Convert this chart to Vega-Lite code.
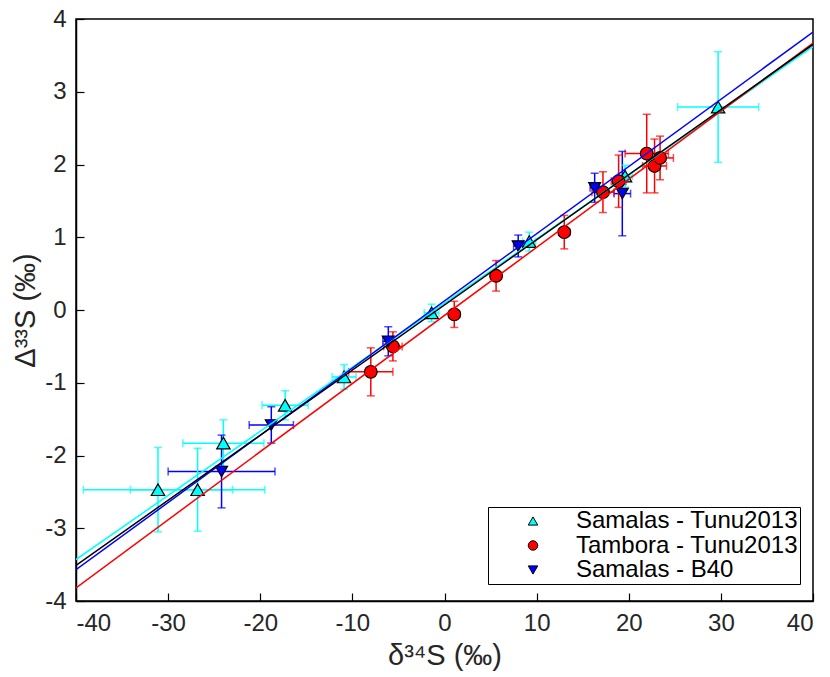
{
  "$schema": "https://vega.github.io/schema/vega-lite/v6.json",
  "autosize": {"type": "none"},
  "width": 737,
  "height": 582,
  "padding": {"left": 76, "top": 19, "right": 17, "bottom": 76},
  "background": "white",
  "config": {
    "font": "Liberation Sans",
    "view": {"stroke": "black", "strokeWidth": 1.5},
    "axis": {
      "grid": false,
      "domainColor": "black",
      "domainWidth": 1.5,
      "tickColor": "black",
      "tickWidth": 1.2,
      "labelFont": "Liberation Sans",
      "labelFontSize": 24,
      "labelColor": "#262626",
      "titleFont": "Liberation Sans",
      "titleFontSize": 29,
      "titleFontWeight": "normal",
      "titleColor": "#262626"
    },
    "legend": {
      "strokeColor": "black",
      "fillColor": "white",
      "padding": 2,
      "symbolStrokeColor": "black",
      "symbolStrokeWidth": 1,
      "labelFontSize": 24,
      "labelColor": "black",
      "labelFont": "Liberation Sans",
      "labelLimit": 400
    }
  },
  "resolve": {"axis": {"x": "independent", "y": "independent"}},
  "datasets": {
    "pts": [
      {"series": "Samalas - Tunu2013", "x": -31.1, "y": -2.47, "xlo": -39.2, "xhi": -23.0, "ylo": -3.05, "yhi": -1.89},
      {"series": "Samalas - Tunu2013", "x": -26.8, "y": -2.47, "xlo": -34.1, "xhi": -19.5, "ylo": -3.04, "yhi": -1.90},
      {"series": "Samalas - Tunu2013", "x": -24.0, "y": -1.83, "xlo": -28.4, "xhi": -19.6, "ylo": -2.15, "yhi": -1.51},
      {"series": "Samalas - Tunu2013", "x": -17.3, "y": -1.31, "xlo": -19.8, "xhi": -14.8, "ylo": -1.51, "yhi": -1.11},
      {"series": "Samalas - Tunu2013", "x": -10.9, "y": -0.92, "xlo": -12.2, "xhi": -9.6, "ylo": -1.09, "yhi": -0.75},
      {"series": "Samalas - Tunu2013", "x": -1.4, "y": -0.04, "xlo": -2.2, "xhi": -0.6, "ylo": -0.16, "yhi": 0.08},
      {"series": "Samalas - Tunu2013", "x": 9.2, "y": 0.94, "xlo": 8.5, "xhi": 9.9, "ylo": 0.81, "yhi": 1.07},
      {"series": "Samalas - Tunu2013", "x": 19.6, "y": 1.84, "xlo": 18.8, "xhi": 20.4, "ylo": 1.69, "yhi": 1.99},
      {"series": "Samalas - Tunu2013", "x": 29.7, "y": 2.79, "xlo": 25.3, "xhi": 34.1, "ylo": 2.03, "yhi": 3.55},
      {"series": "Tambora - Tunu2013", "x": -8.0, "y": -0.85, "xlo": -10.4, "xhi": -5.6, "ylo": -1.18, "yhi": -0.52},
      {"series": "Tambora - Tunu2013", "x": -5.6, "y": -0.50, "xlo": -6.6, "xhi": -4.6, "ylo": -0.70, "yhi": -0.30},
      {"series": "Tambora - Tunu2013", "x": 1.06, "y": -0.06, "xlo": 0.46, "xhi": 1.66, "ylo": -0.24, "yhi": 0.12},
      {"series": "Tambora - Tunu2013", "x": 5.6, "y": 0.47, "xlo": 5.0, "xhi": 6.2, "ylo": 0.26, "yhi": 0.68},
      {"series": "Tambora - Tunu2013", "x": 13.0, "y": 1.07, "xlo": 12.4, "xhi": 13.6, "ylo": 0.84, "yhi": 1.30},
      {"series": "Tambora - Tunu2013", "x": 17.2, "y": 1.62, "xlo": 16.0, "xhi": 18.4, "ylo": 1.34, "yhi": 1.90},
      {"series": "Tambora - Tunu2013", "x": 18.9, "y": 1.77, "xlo": 18.1, "xhi": 19.7, "ylo": 1.41, "yhi": 2.13},
      {"series": "Tambora - Tunu2013", "x": 21.95, "y": 2.15, "xlo": 19.6, "xhi": 24.3, "ylo": 1.61, "yhi": 2.69},
      {"series": "Tambora - Tunu2013", "x": 22.8, "y": 1.98, "xlo": 21.5, "xhi": 24.1, "ylo": 1.61, "yhi": 2.35},
      {"series": "Tambora - Tunu2013", "x": 23.4, "y": 2.09, "xlo": 21.95, "xhi": 24.85, "ylo": 1.79, "yhi": 2.39},
      {"series": "Samalas - B40", "x": -24.2, "y": -2.22, "xlo": -30.0, "xhi": -18.4, "ylo": -2.72, "yhi": -1.72},
      {"series": "Samalas - B40", "x": -18.8, "y": -1.58, "xlo": -21.2, "xhi": -16.4, "ylo": -1.83, "yhi": -1.33},
      {"series": "Samalas - B40", "x": -6.1, "y": -0.43, "xlo": -6.7, "xhi": -5.5, "ylo": -0.63, "yhi": -0.23},
      {"series": "Samalas - B40", "x": 8.0, "y": 0.88, "xlo": 7.5, "xhi": 8.5, "ylo": 0.73, "yhi": 1.03},
      {"series": "Samalas - B40", "x": 16.3, "y": 1.68, "xlo": 15.8, "xhi": 16.8, "ylo": 1.48, "yhi": 1.88},
      {"series": "Samalas - B40", "x": 19.3, "y": 1.60, "xlo": 18.4, "xhi": 20.2, "ylo": 1.02, "yhi": 2.18}
    ],
    "fits": [
      {"fit": "Samalas - Tunu2013", "x": -40, "y": -3.43},
      {"fit": "Samalas - Tunu2013", "x": 40, "y": 3.62},
      {"fit": "Tambora - Tunu2013", "x": -40, "y": -3.82},
      {"fit": "Tambora - Tunu2013", "x": 40, "y": 3.67},
      {"fit": "Samalas - B40", "x": -40, "y": -3.57},
      {"fit": "Samalas - B40", "x": 40, "y": 3.82},
      {"fit": "All", "x": -40, "y": -3.51},
      {"fit": "All", "x": 40, "y": 3.65}
    ]
  },
  "layer": [
    {
      "data": {"name": "pts"},
      "mark": {"type": "rule", "strokeWidth": 1.5},
      "encoding": {
        "x": {"field": "xlo", "type": "quantitative", "scale": {"domain": [-40, 40], "nice": false, "zero": false},
              "axis": {"values": [-40, -30, -20, -10, 0, 10, 20, 30, 40], "labelExpr": "'' + datum.value", "ticks": false, "title": "δ³⁴S (‰)", "labelPadding": 10, "titlePadding": 6}},
        "x2": {"field": "xhi"},
        "y": {"field": "y", "type": "quantitative", "scale": {"domain": [-4, 4], "nice": false, "zero": false},
              "axis": {"values": [-4, -3, -2, -1, 0, 1, 2, 3, 4], "labelExpr": "'' + datum.value", "ticks": false, "title": "Δ³³S (‰)", "labelPadding": 10, "titlePadding": 4}},
        "stroke": {"field": "series", "type": "nominal", "legend": null,
                   "scale": {"domain": ["Samalas - Tunu2013", "Tambora - Tunu2013", "Samalas - B40", "All"], "range": ["#00FFFF", "#FF0000", "#0000FF", "#000000"]}}
      }
    },
    {
      "data": {"name": "pts"},
      "mark": {"type": "rule", "strokeWidth": 1.5},
      "encoding": {
        "x": {"field": "x", "type": "quantitative", "axis": null},
        "y": {"field": "ylo", "type": "quantitative", "axis": null},
        "y2": {"field": "yhi"},
        "stroke": {"field": "series", "type": "nominal", "legend": null}
      }
    },
    {
      "data": {"name": "pts"},
      "mark": {"type": "tick", "orient": "vertical", "size": 8, "thickness": 1.5},
      "encoding": {
        "x": {"field": "xlo", "type": "quantitative", "axis": null},
        "y": {"field": "y", "type": "quantitative", "axis": null},
        "fill": {"field": "series", "type": "nominal", "legend": null,
                 "scale": {"domain": ["Samalas - Tunu2013", "Tambora - Tunu2013", "Samalas - B40", "All"], "range": ["#00FFFF", "#FF0000", "#0000FF", "#000000"]}}
      }
    },
    {
      "data": {"name": "pts"},
      "mark": {"type": "tick", "orient": "vertical", "size": 8, "thickness": 1.5},
      "encoding": {
        "x": {"field": "xhi", "type": "quantitative", "axis": null},
        "y": {"field": "y", "type": "quantitative", "axis": null},
        "fill": {"field": "series", "type": "nominal", "legend": null}
      }
    },
    {
      "data": {"name": "pts"},
      "mark": {"type": "tick", "orient": "horizontal", "size": 8, "thickness": 1.5},
      "encoding": {
        "x": {"field": "x", "type": "quantitative", "axis": null},
        "y": {"field": "ylo", "type": "quantitative", "axis": null},
        "fill": {"field": "series", "type": "nominal", "legend": null}
      }
    },
    {
      "data": {"name": "pts"},
      "mark": {"type": "tick", "orient": "horizontal", "size": 8, "thickness": 1.5},
      "encoding": {
        "x": {"field": "x", "type": "quantitative", "axis": null},
        "y": {"field": "yhi", "type": "quantitative", "axis": null},
        "fill": {"field": "series", "type": "nominal", "legend": null}
      }
    },
    {
      "data": {"name": "pts"},
      "mark": {"type": "point", "filled": true, "opacity": 1, "stroke": "black", "strokeWidth": 1.2},
      "encoding": {
        "x": {"field": "x", "type": "quantitative", "axis": null},
        "y": {"field": "y", "type": "quantitative", "axis": null},
        "size": {"field": "series", "type": "nominal", "legend": null,
                 "scale": {"domain": ["Samalas - Tunu2013", "Tambora - Tunu2013", "Samalas - B40", "All"], "range": [180, 125, 180, 100]}},
        "color": {"field": "series", "type": "nominal",
                  "scale": {"domain": ["Samalas - Tunu2013", "Tambora - Tunu2013", "Samalas - B40"], "range": ["#00FFFF", "#FF0000", "#0000FF"]},
                  "legend": {"title": null, "orient": "none", "legendX": 412, "legendY": 488, "symbolOffset": 31, "labelOffset": 31, "symbolSize": 90, "rowPadding": 0.5, "labelExpr": "datum.label + '  '"}},
        "shape": {"field": "series", "type": "nominal",
                  "scale": {"domain": ["Samalas - Tunu2013", "Tambora - Tunu2013", "Samalas - B40"], "range": ["triangle-up", "circle", "triangle-down"]},
                  "legend": {"title": null, "orient": "none", "legendX": 412, "legendY": 488, "symbolOffset": 31, "labelOffset": 31, "symbolSize": 90, "rowPadding": 0.5, "labelExpr": "datum.label + '  '"}}
      }
    },
    {
      "data": {"name": "fits"},
      "transform": [{"filter": "datum.fit != 'All'"}],
      "mark": {"type": "line", "strokeWidth": 1.5, "clip": true},
      "encoding": {
        "x": {"field": "x", "type": "quantitative",
              "axis": {"orient": "top", "offset": -582, "values": [-40, -30, -20, -10, 0, 10, 20, 30, 40], "labels": false, "domain": false, "ticks": true, "tickSize": 8, "title": null}},
        "y": {"field": "y", "type": "quantitative",
              "axis": {"orient": "right", "offset": -737, "values": [-4, -3, -2, -1, 0, 1, 2, 3, 4], "labels": false, "domain": false, "ticks": true, "tickSize": 8, "title": null}},
        "stroke": {"field": "fit", "type": "nominal", "legend": null}
      }
    },
    {
      "data": {"name": "fits"},
      "transform": [{"filter": "datum.fit == 'All'"}],
      "mark": {"type": "line", "strokeWidth": 1.5, "clip": true},
      "encoding": {
        "x": {"field": "x", "type": "quantitative", "axis": null},
        "y": {"field": "y", "type": "quantitative", "axis": null},
        "stroke": {"field": "fit", "type": "nominal", "legend": null}
      }
    }
  ]
}
